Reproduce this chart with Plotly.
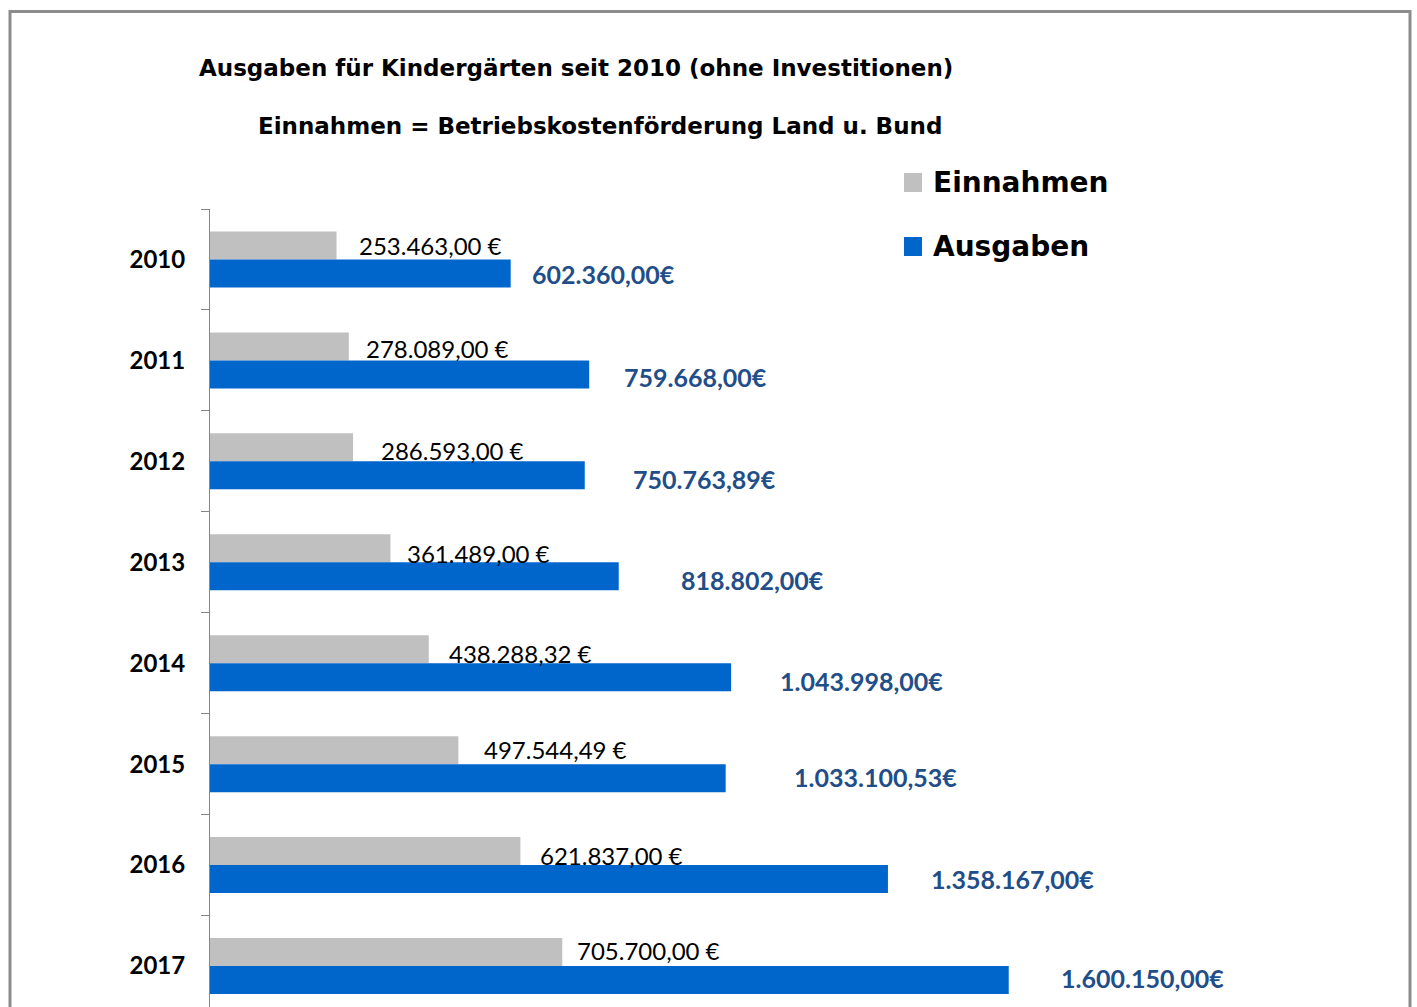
import plotly.graph_objects as go

# ---- data ----
years = ["2010", "2011", "2012", "2013", "2014", "2015", "2016", "2017"]
einnahmen = [253463.00, 278089.00, 286593.00, 361489.00, 438288.32, 497544.49, 621837.00, 705700.00]
ausgaben = [602360.00, 759668.00, 750763.89, 818802.00, 1043998.00, 1033100.53, 1358167.00, 1600150.00]

# label offsets (pixels) as seen in the reference
ein_xshift = [20, 15, 26, 15, 18, 24, 18, 13]
ein_yshift = [0, -2, -3, -5, -4, 1, -4, 2]
aus_xshift = [19, 33, 46, 60, 47, 66, 41, 50]
aus_yshift = [-1, -3, -4, -4, -4, 1, 0, 2]

GREY = "#C0C0C0"
BLUE = "#0066CC"
LABEL_BLUE = "#1F4E89"
FONT = "Lato"
FONT_WIDE = "DejaVu Sans"

W, H = 1417, 1007
ML, MR, MT, MB = 210, 9, 209, 0
PW = W - ML - MR
PH = H - MT - MB


def px_x(px):
    return (px - ML) / PW


def px_y(py):
    return 1 - (py - MT) / PH


def de_money(v):
    s = f"{v:,.2f}"
    return s.replace(",", "X").replace(".", ",").replace("X", ".")


fig = go.Figure()
fig.add_trace(go.Bar(name="Einnahmen", y=years, x=einnahmen, orientation="h",
                     marker=dict(color=GREY, line=dict(width=0)), showlegend=False))
fig.add_trace(go.Bar(name="Ausgaben", y=years, x=ausgaben, orientation="h",
                     marker=dict(color=BLUE, line=dict(width=0)), showlegend=False))

half = (1 - 0.445) / 4
annotations = []
for i, y in enumerate(years):
    annotations.append(dict(x=einnahmen[i], y=i - half, xref="x", yref="y",
                            text=de_money(einnahmen[i]) + " €", showarrow=False,
                            xanchor="left", yanchor="middle",
                            xshift=ein_xshift[i], yshift=ein_yshift[i],
                            font=dict(family=FONT, size=24, color="#000000")))
    annotations.append(dict(x=ausgaben[i], y=i + half, xref="x", yref="y",
                            text="<b>" + de_money(ausgaben[i]) + "€</b>", showarrow=False,
                            xanchor="left", yanchor="middle",
                            xshift=aus_xshift[i], yshift=aus_yshift[i],
                            font=dict(family=FONT, size=25, color=LABEL_BLUE)))

# titles
annotations.append(dict(x=px_x(197), y=px_y(68), xref="paper", yref="paper",
                        text="<b>Ausgaben für Kindergärten seit 2010 (ohne Investitionen)</b>",
                        showarrow=False, xanchor="left", yanchor="middle",
                        font=dict(family=FONT_WIDE, size=23, color="#000000")))
annotations.append(dict(x=px_x(256), y=px_y(126), xref="paper", yref="paper",
                        text="<b>Einnahmen = Betriebskostenförderung Land u. Bund</b>",
                        showarrow=False, xanchor="left", yanchor="middle",
                        font=dict(family=FONT_WIDE, size=23, color="#000000")))

# legend (custom)
legend_items = [("Einnahmen", GREY, 182.5), ("Ausgaben", BLUE, 246.5)]
shapes = []
for name, col, cy in legend_items:
    shapes.append(dict(type="rect", xref="paper", yref="paper",
                       x0=px_x(904), x1=px_x(922), y0=px_y(cy - 9.5), y1=px_y(cy + 9.5),
                       fillcolor=col, line=dict(width=0)))
    annotations.append(dict(x=px_x(931), y=px_y(cy), xref="paper", yref="paper",
                            text="<b>" + name + "</b>", showarrow=False,
                            xanchor="left", yanchor="middle",
                            font=dict(family=FONT_WIDE, size=28, color="#000000")))

# outer frame
shapes.append(dict(type="rect", xref="paper", yref="paper",
                   x0=px_x(10), x1=px_x(1410), y0=px_y(1050), y1=px_y(11.5),
                   line=dict(color="#8C8C8C", width=3), fillcolor="rgba(0,0,0,0)",
                   layer="above"))

fig.update_layout(
    width=W, height=H,
    margin=dict(l=ML, r=MR, t=MT, b=MB, pad=0),
    paper_bgcolor="white", plot_bgcolor="white",
    barmode="group", bargap=0.445, bargroupgap=0,
    annotations=annotations, shapes=shapes,
    showlegend=False,
    font=dict(family=FONT),
)
fig.update_xaxes(range=[0, 2400000], visible=False, showgrid=False, zeroline=False)
fig.update_yaxes(type="category", categoryorder="array", categoryarray=years,
                 range=[7.406, -0.5], showgrid=False, zeroline=False,
                 showline=True, linecolor="#868686", linewidth=1,
                 ticks="outside", ticklen=8, tickcolor="#868686", tickwidth=1,
                 tickson="boundaries", ticklabelstandoff=19,
                 tickfont=dict(family=FONT, size=24, color="#000000"))
fig.update_yaxes(tickprefix="<b>", ticksuffix="</b>")

fig.write_html("out.html")
